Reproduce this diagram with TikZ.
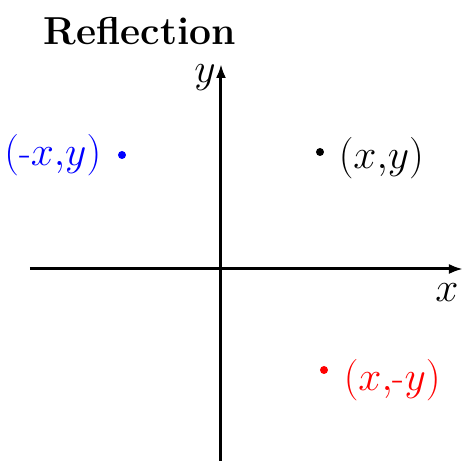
\documentclass[tikz,border=0pt]{standalone}
\usepackage{tikz}
\usetikzlibrary{arrows.meta, positioning}
\definecolor{reflblue}{HTML}{0000FF}
\definecolor{reflred}{HTML}{FF0000}
\tikzset{
  axis/.style={-{Latex[length=7pt,width=5pt]}, line width=1.5pt, draw=black},
  pdot/.style={circle, fill=#1, inner sep=0pt, minimum size=4pt},
  plabel/.style={font=\fontsize{19.5}{24}\selectfont, text=#1, inner sep=0pt},
  alabel/.style={font=\fontsize{20}{24}\selectfont, inner sep=0pt}
}

\begin{document}
\begin{tikzpicture}[x=0.5pt, y=0.5pt]
\useasboundingbox (0,0) rectangle (463,461);
% title
\node[font=\fontsize{19.5}{23}\selectfont\bfseries, anchor=base] (title) at (140,416) {Reflection};
% axes
\coordinate (xl) at (30,192);
\coordinate (xr) at (463,192);
\coordinate (yb) at (221,0);
\coordinate (yt) at (221,397);
\draw[axis] (xl) -- (xr);
\draw[axis] (yb) -- (yt);
\node[alabel] (ylab) at (205,383) {$y$};
\node[alabel] (xlab) at (447,168) {$x$};
% points
\node[pdot=black] (p) at (320,309) {};
\node[plabel=black, right=7pt of p, yshift=-3pt] (plab) {$(x{,}y)$};
\node[pdot=reflblue] (q) at (122,306) {};
\node[plabel=reflblue, left=8pt of q] (qlab) {$(\textrm{-}x{,}y)$};
\node[pdot=reflred] (r) at (324,91) {};
\node[plabel=reflred, right=7.5pt of r, yshift=-5pt] (rlab) {$(x{,}\textrm{-}y)$};
\end{tikzpicture}
\end{document}
